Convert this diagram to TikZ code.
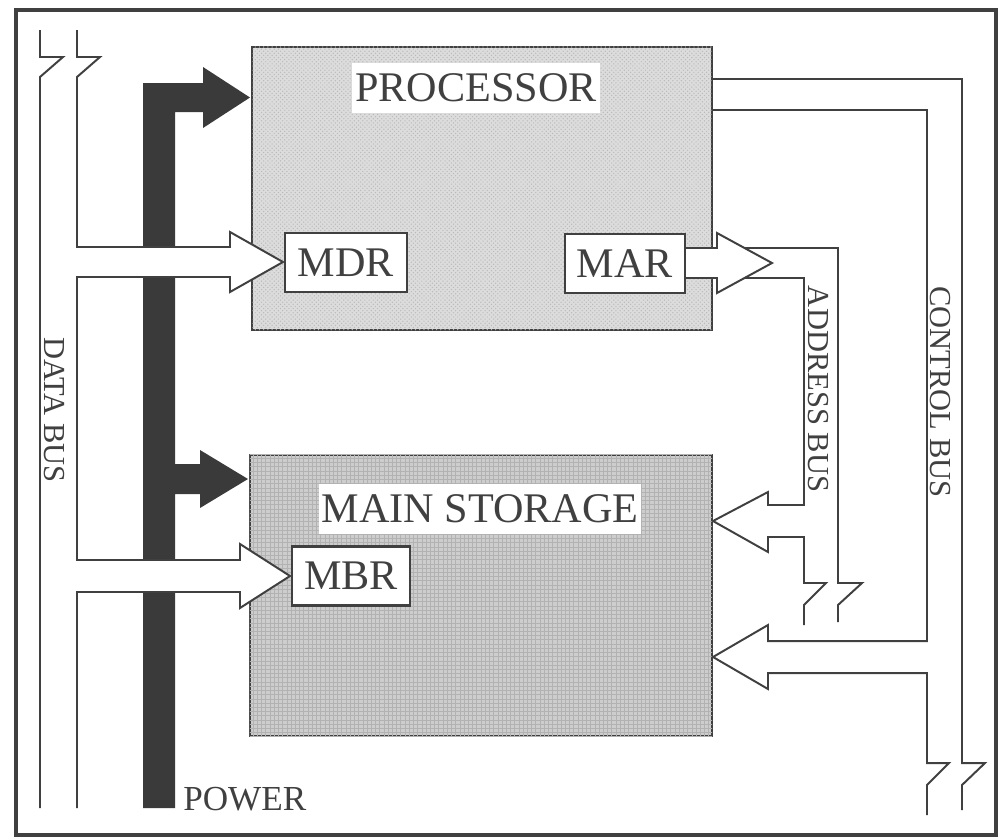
\documentclass[tikz,border=0pt]{standalone}
\usepackage{fontspec}
\setmainfont{Liberation Serif}
\usetikzlibrary{calc,patterns}

\definecolor{inkgray}{HTML}{404040}
\definecolor{powergray}{HTML}{3A3A3A}
\definecolor{cpufill}{HTML}{DCDCDC}
\definecolor{memfill}{HTML}{CDCDCD}

\newcommand{\px}{0.7113pt}
\newcommand{\bigfont}{\fontsize{30}{36}\selectfont}
\newcommand{\midfont}{\fontsize{25}{30}\selectfont}
\newcommand{\busfont}{\fontsize{21.7}{26}\selectfont}

\begin{document}
\begin{tikzpicture}[
  % one unit = one pixel of the scanned figure
  x=0.025cm, y=-0.025cm,
  % --- outline-only bus rails
  busline/.style={draw=inkgray, line width=1.4pt, line join=miter},
  hollow/.style={fill=white},
  % --- the two units and their registers
  unitbox/.style={draw=inkgray, line width=1.8pt, inner sep=0pt, outer sep=0pt},
  reg/.style={draw=inkgray, line width=1.6pt, fill=white, inner sep=0pt,
    minimum width=#1*\px, minimum height=59*\px, font=\bigfont, text=inkgray},
  unitlabel/.style={fill=white, font=\bigfont, text=inkgray,
    inner xsep=2pt, inner ysep=8pt},
  buslabel/.style={font=\busfont, text=inkgray, rotate=-90, inner sep=0pt},
]
\useasboundingbox (0,0) rectangle (999,838);

% outer frame
\draw[draw=inkgray, line width=3pt] (16,10) rectangle (996,835);

%========================
% Processor and main storage
%========================
\node[unitbox, fill=cpufill,
      postaction={pattern=crosshatch dots, pattern color=gray!55},
      minimum width=460*\px, minimum height=283*\px] (cpu) at (482,188.5) {};
\node[unitbox, fill=memfill,
      postaction={pattern=grid, pattern color=gray!60},
      minimum width=462*\px, minimum height=281*\px] (mem) at (481,595.5) {};

%========================
% Power rail (solid)
%========================
\fill[powergray] (143,808) -- (143,83) -- (203,83) -- (203,67) -- (250,97.5)
  -- (203,128) -- (203,112) -- (175,112) -- (175,464) -- (200,464)
  -- (200,450) -- (248,479) -- (200,508) -- (200,494) -- (175,494)
  -- (175,808) -- cycle;

%========================
% Data bus (left), feeding MDR and MBR
%========================
\fill[hollow] (77,247) -- (230,247) -- (230,232) -- (283,262) -- (230,292)
  -- (230,277) -- (77,277) -- cycle;
\fill[hollow] (77,560) -- (240,560) -- (240,544) -- (290,576) -- (240,608)
  -- (240,592) -- (77,592) -- cycle;
\draw[busline] (40,30) -- (40,57) -- (63,57) -- (40,77) -- (40,808);
\draw[busline] (77,30) -- (77,57) -- (100,57) -- (77,77)
  -- (77,247) -- (230,247) -- (230,232) -- (283,262) -- (230,292) -- (230,277) -- (77,277)
  -- (77,560) -- (240,560) -- (240,544) -- (290,576) -- (240,608) -- (240,592) -- (77,592)
  -- (77,808);

%========================
% Address bus (MAR out, into main storage)
%========================
\fill[hollow] (685,248) -- (717,248) -- (717,233) -- (772,263) -- (717,293)
  -- (717,278) -- (685,278) -- cycle;
\draw[busline] (685,248) -- (717,248) -- (717,233) -- (772,263) -- (717,293)
  -- (717,278) -- (685,278);
\draw[busline] (744.5,248) -- (838,248) -- (838,583) -- (862,583) -- (838,605) -- (838,622);
\draw[busline] (744.5,278) -- (804,278) -- (804,505) -- (768,505) -- (768,492)
  -- (713,521) -- (768,552) -- (768,537) -- (804,537)
  -- (804,583) -- (826,583) -- (804,605) -- (804,625);

%========================
% Control bus (right)
%========================
\draw[busline] (712,79) -- (962,79) -- (962,763) -- (985,763) -- (962,785) -- (962,810);
\draw[busline] (712,110) -- (927,110) -- (927,641) -- (768,641) -- (768,625)
  -- (713,657) -- (768,689) -- (768,673) -- (927,673)
  -- (927,763) -- (949,763) -- (927,785) -- (927,815);

%========================
% Registers and labels
%========================
\node[reg=122] (mdr) at (346,262.5) {MDR};
\node[reg=120] (mar) at (625,263.5) {MAR};
\node[reg=118] (mbr) at (351,576) {MBR};

\node[unitlabel] (cpulabel) at (476,88) {PROCESSOR};
\node[unitlabel] (memlabel) at (480,509) {MAIN STORAGE};

\node[font=\midfont, text=inkgray, anchor=west, inner sep=0pt] (power) at (183,799) {POWER};
\node[buslabel] (databus) at (54,410) {DATA BUS};
\node[buslabel] (addrbus) at (818,389) {ADDRESS BUS};
\node[buslabel] (ctrlbus) at (940,392) {CONTROL BUS};

\end{tikzpicture}
\end{document}
